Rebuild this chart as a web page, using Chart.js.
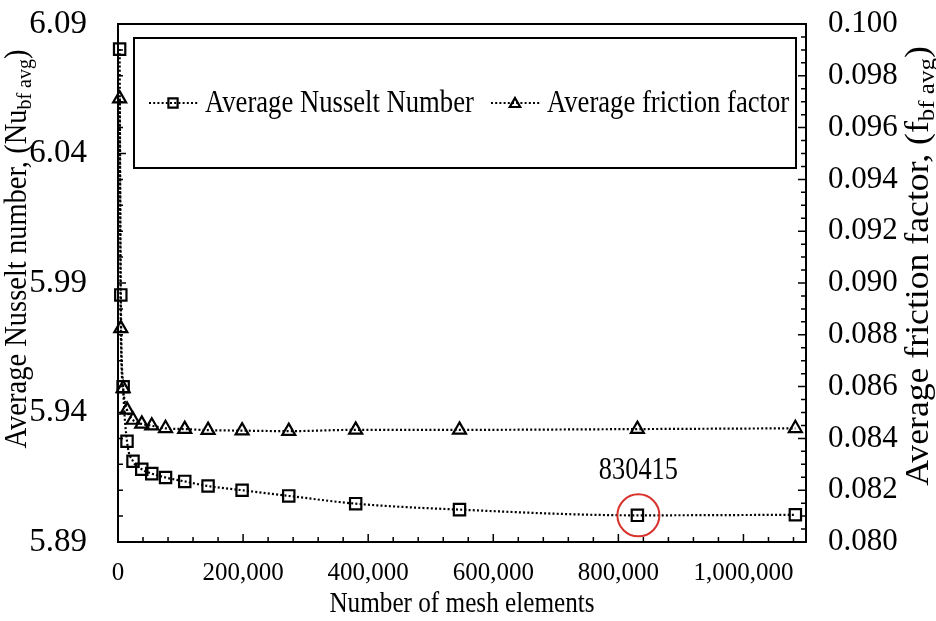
<!DOCTYPE html>
<html>
<head>
<meta charset="utf-8">
<script src="https://cdn.jsdelivr.net/npm/chart.js@4"></script>
<style>
html, body { margin: 0; padding: 0; background: #fff; }
#wrap { width: 936px; height: 621px; }
</style>
</head>
<body>
<div id="wrap"><canvas id="chartCanvas" width="936" height="621"></canvas></div>
<script>
// number of mesh elements (x axis)
var meshElements = [2600, 4500, 8200, 14400, 24000, 38000, 54000, 76000, 106700, 144000, 198400, 273000, 380000, 546000, 830415, 1083000];
// average Nusselt number (left axis)
var nusseltAvg = [6.0803, 5.9854, 5.9499, 5.9289, 5.9212, 5.9181, 5.9164, 5.9149, 5.9134, 5.9116, 5.9100, 5.9078, 5.9048, 5.9025, 5.9003, 5.9005];
// average friction factor (right axis)
var frictionAvg = [0.09712, 0.08825, 0.08593, 0.08510, 0.08471, 0.08456, 0.08449, 0.08439, 0.08436, 0.08432, 0.08430, 0.08428, 0.08433, 0.08433, 0.08436, 0.08439];
var seriesNames = ["Average Nusselt Number", "Average friction factor"];
var xTicks = [0, 200000, 400000, 600000, 800000, 1000000];
var leftTicks = [5.89, 5.94, 5.99, 6.04, 6.09];
var rightTicks = [0.080, 0.082, 0.084, 0.086, 0.088, 0.090, 0.092, 0.094, 0.096, 0.098, 0.100];
var selectedMesh = 830415;

var FONT = '"Liberation Serif", "Times New Roman", serif';

//draws text with an optional subscript part, centred on (x, y)
function drawRich(ctx, parts, x, y, size, squeeze, angle) {
    ctx.save();
    ctx.translate(x, y);
    if (angle) ctx.rotate(angle);
    ctx.scale(squeeze, 1);
    ctx.textBaseline = "middle";
    ctx.textAlign = "left";
    ctx.fillStyle = "#000";
    var total = 0;
    for (var i = 0; i < parts.length; i++) {
        ctx.font = (parts[i].sub ? size * 0.7 : size) + "px " + FONT;
        parts[i].w = ctx.measureText(parts[i].text).width;
        total += parts[i].w;
    }
    var cx = -total / 2;
    for (var i = 0; i < parts.length; i++) {
        ctx.font = (parts[i].sub ? size * 0.7 : size) + "px " + FONT;
        ctx.fillText(parts[i].text, cx, parts[i].sub ? size * 0.25 : 0);
        cx += parts[i].w;
    }
    ctx.restore();
}

//no extra room for the tick labels, the plot area is fixed by the layout
function fixedScale(w, h) {
    return function (scale) {
        if (w) scale.width = w;
        if (h) scale.height = h;
        scale.paddingTop = 0;
        scale.paddingBottom = 0;
        scale.paddingLeft = 0;
        scale.paddingRight = 0;
    };
}

//frame, inward tick marks, titles, legend and the marked mesh
var decorPlugin = {
    id: "decor",
    afterDraw: function (chart) {
        var ctx = chart.ctx;
        var area = chart.chartArea;
        var sx = chart.scales.x, sl = chart.scales.yNu, sr = chart.scales.yF;
        ctx.save();
        ctx.strokeStyle = "#000";
        ctx.lineWidth = 2;
        ctx.beginPath();
        ctx.moveTo(area.left - 1, area.top);
        ctx.lineTo(area.right + 1, area.top);
        ctx.stroke();

        ctx.lineWidth = 1.5;
        ctx.beginPath();
        // bottom axis ticks
        for (var v = 0; v <= sx.max; v += 40000) {
            var px = sx.getPixelForValue(v);
            var len = (v % 200000 === 0) ? 8 : 5;
            ctx.moveTo(px, area.bottom);
            ctx.lineTo(px, area.bottom - len);
        }
        // left axis ticks
        for (var k = 0; k <= 20; k++) {
            var py = sl.getPixelForValue(sl.min + k * 0.01);
            var len = (k % 5 === 0) ? 8 : 5;
            ctx.moveTo(area.left, py);
            ctx.lineTo(area.left + len, py);
        }
        // right axis ticks
        for (var k = 0; k <= 40; k++) {
            var py = sr.getPixelForValue(sr.min + k * 0.0005);
            var len = (k % 4 === 0) ? 8 : 5;
            ctx.moveTo(area.right, py);
            ctx.lineTo(area.right - len, py);
        }
        ctx.stroke();

        // axis titles
        drawRich(ctx, [{text: "Number of mesh elements"}], (area.left + area.right) / 2, 604, 30, 0.84, 0);
        drawRich(ctx, [{text: "Average Nusselt number, (Nu"}, {text: "bf avg", sub: true}, {text: ")"}], 18, 249, 31, 0.92, -Math.PI / 2);
        drawRich(ctx, [{text: "Average friction factor, (f"}, {text: "bf avg", sub: true}, {text: ")"}], 919, 266, 34, 1.05, -Math.PI / 2);

        // legend box
        var bx0 = area.left + 16, bx1 = area.right - 10, by0 = area.top + 14, by1 = area.top + 144;
        ctx.lineWidth = 2;
        ctx.strokeRect(bx0, by0, bx1 - bx0, by1 - by0);
        var ly = (by0 + by1) / 2;
        var starts = [bx0 + 15, bx0 + 357];
        chart.data.datasets.forEach(function (ds, i) {
            var lx = starts[i];
            ctx.save();
            ctx.strokeStyle = ds.borderColor;
            ctx.lineWidth = ds.borderWidth;
            ctx.setLineDash(ds.borderDash);
            ctx.beginPath();
            ctx.moveTo(lx, ly);
            ctx.lineTo(lx + 49, ly);
            ctx.stroke();
            ctx.restore();
            ctx.save();
            ctx.strokeStyle = ds.pointBorderColor;
            ctx.fillStyle = ds.pointBackgroundColor;
            ctx.lineWidth = ds.pointBorderWidth;
            Chart.helpers.drawPoint(ctx, {pointStyle: ds.pointStyle, radius: ds.pointRadius - 1.5, borderWidth: ds.pointBorderWidth, rotation: 0}, lx + 24, ly + (ds.pointStyle === "triangle" ? 1 : 0));
            ctx.restore();
            ctx.save();
            ctx.translate(lx + 56, ly);
            ctx.scale(0.82, 1);
            ctx.font = "32.5px " + FONT;
            ctx.textAlign = "left";
            ctx.textBaseline = "middle";
            ctx.fillStyle = "#000";
            ctx.fillText(ds.label, 0, 0);
            ctx.restore();
        });

        // circled mesh
        var idx = meshElements.indexOf(selectedMesh);
        var cx = sx.getPixelForValue(selectedMesh);
        var cy = sl.getPixelForValue(nusseltAvg[idx]);
        ctx.strokeStyle = "#d8322c";
        ctx.lineWidth = 2;
        ctx.beginPath();
        ctx.arc(cx + 1, cy, 21, 0, Math.PI * 2);
        ctx.stroke();
        drawRich(ctx, [{text: String(selectedMesh)}], cx + 1, cy - 44, 31, 0.85, 0);
        ctx.restore();
    }
};

var canvasChart = document.getElementById("chartCanvas");
var lineStyle = {
    borderColor: "#000",
    borderWidth: 2.2,
    borderDash: [2, 2.2],
    pointBorderColor: "#000",
    pointBackgroundColor: "rgba(0,0,0,0)",
    pointBorderWidth: 2.2,
    cubicInterpolationMode: "monotone",
    fill: false,
    clip: false
};

var mychart = new Chart(canvasChart, {
    type: "line",
    data: {
        datasets: [
            Object.assign({
                label: seriesNames[0],
                data: meshElements.map(function (m, i) { return {x: m, y: nusseltAvg[i]}; }),
                yAxisID: "yNu",
                pointStyle: "rect",
                pointRadius: 8
            }, lineStyle),
            Object.assign({
                label: seriesNames[1],
                data: meshElements.map(function (m, i) { return {x: m, y: frictionAvg[i]}; }),
                yAxisID: "yF",
                pointStyle: "triangle",
                pointRadius: 7.5
            }, lineStyle)
        ]
    },
    options: {
        responsive: false,
        animation: false,
        devicePixelRatio: 1,
        layout: {padding: {top: 24, left: 0, right: 0, bottom: 0}},
        plugins: {
            legend: {display: false},
            tooltip: {enabled: false}
        },
        scales: {
            x: {
                type: "linear",
                min: 0,
                max: 1100000,
                grid: {display: false, drawTicks: false},
                border: {display: true, color: "#000", width: 2},
                ticks: {
                    padding: 16,
                    color: "#000",
                    font: {family: FONT, size: 25},
                    maxRotation: 0,
                    callback: function (v) { return v.toLocaleString("en-US"); }
                },
                afterBuildTicks: function (scale) { scale.ticks = xTicks.map(function (v) { return {value: v}; }); },
                afterFit: fixedScale(0, 79)
            },
            yNu: {
                type: "linear",
                position: "left",
                min: 5.89,
                max: 6.09,
                grid: {display: false, drawTicks: false},
                border: {display: true, color: "#000", width: 2},
                ticks: {
                    padding: 31,
                    color: "#000",
                    font: {family: FONT, size: 33},
                    callback: function (v) { return v.toFixed(2); }
                },
                afterBuildTicks: function (scale) { scale.ticks = leftTicks.map(function (v) { return {value: v}; }); },
                afterFit: fixedScale(118, 0)
            },
            yF: {
                type: "linear",
                position: "right",
                min: 0.080,
                max: 0.100,
                grid: {display: false, drawTicks: false},
                border: {display: true, color: "#000", width: 2},
                ticks: {
                    padding: 22,
                    color: "#000",
                    font: {family: FONT, size: 31},
                    callback: function (v) { return v.toFixed(3); }
                },
                afterBuildTicks: function (scale) { scale.ticks = rightTicks.map(function (v) { return {value: v}; }); },
                afterFit: fixedScale(130, 0)
            }
        }
    },
    plugins: [decorPlugin]
});
</script>
</body>
</html>
